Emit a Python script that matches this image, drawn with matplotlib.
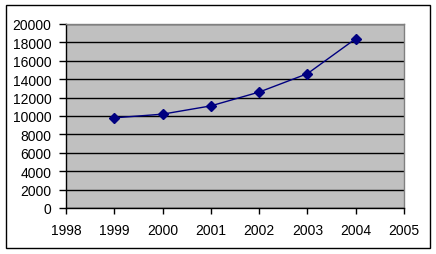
import matplotlib
matplotlib.use("Agg")
import matplotlib.pyplot as plt
from matplotlib.patches import Rectangle

years = [1999, 2000, 2001, 2002, 2003, 2004]
values = [9800, 10200, 11100, 12600, 14600, 18400]
x_ticks = [1998, 1999, 2000, 2001, 2002, 2003, 2004, 2005]
y_ticks = list(range(0, 20001, 2000))

plt.rcParams['font.family'] = ['Liberation Sans', 'DejaVu Sans']
W, H = 436, 255
fig = plt.figure(figsize=(W / 100, H / 100), dpi=100)
fig.patch.set_facecolor('white')

ax = fig.add_axes([66 / W, (H - 209) / H, (404 - 66) / W, (209 - 25) / H])
ax.set_facecolor('#C0C0C0')
ax.set_xlim(1998, 2005)
ax.set_ylim(0, 20000)
ax.set_xticks(x_ticks)
ax.set_yticks(y_ticks)
ax.set_xticklabels([str(t) for t in x_ticks])
ax.set_yticklabels([str(t) for t in y_ticks])
ax.yaxis.grid(True, color='black', linewidth=1)
ax.set_axisbelow(True)
ax.tick_params(axis='both', direction='out', length=5, width=1, labelsize=10, color='black')
ax.tick_params(axis='y', pad=5.5)
ax.tick_params(axis='x', pad=7, length=4)

for s in ['top', 'right']:
    ax.spines[s].set_color('#808080')
    ax.spines[s].set_linewidth(1)
for s in ['left', 'bottom']:
    ax.spines[s].set_color('black')
    ax.spines[s].set_linewidth(1)

ax.plot(years, values, color='#000080', linewidth=1, marker='D', markersize=5.5,
        markerfacecolor='#000080', markeredgecolor='#000080', zorder=5, clip_on=False)

fig.patches.append(Rectangle((5.5 / W, (H - 248.5) / H), (430 - 5.5) / W, (248.5 - 5.5) / H,
                             transform=fig.transFigure, fill=False, edgecolor='black', linewidth=1))

fig.savefig('out.png', dpi=100)
